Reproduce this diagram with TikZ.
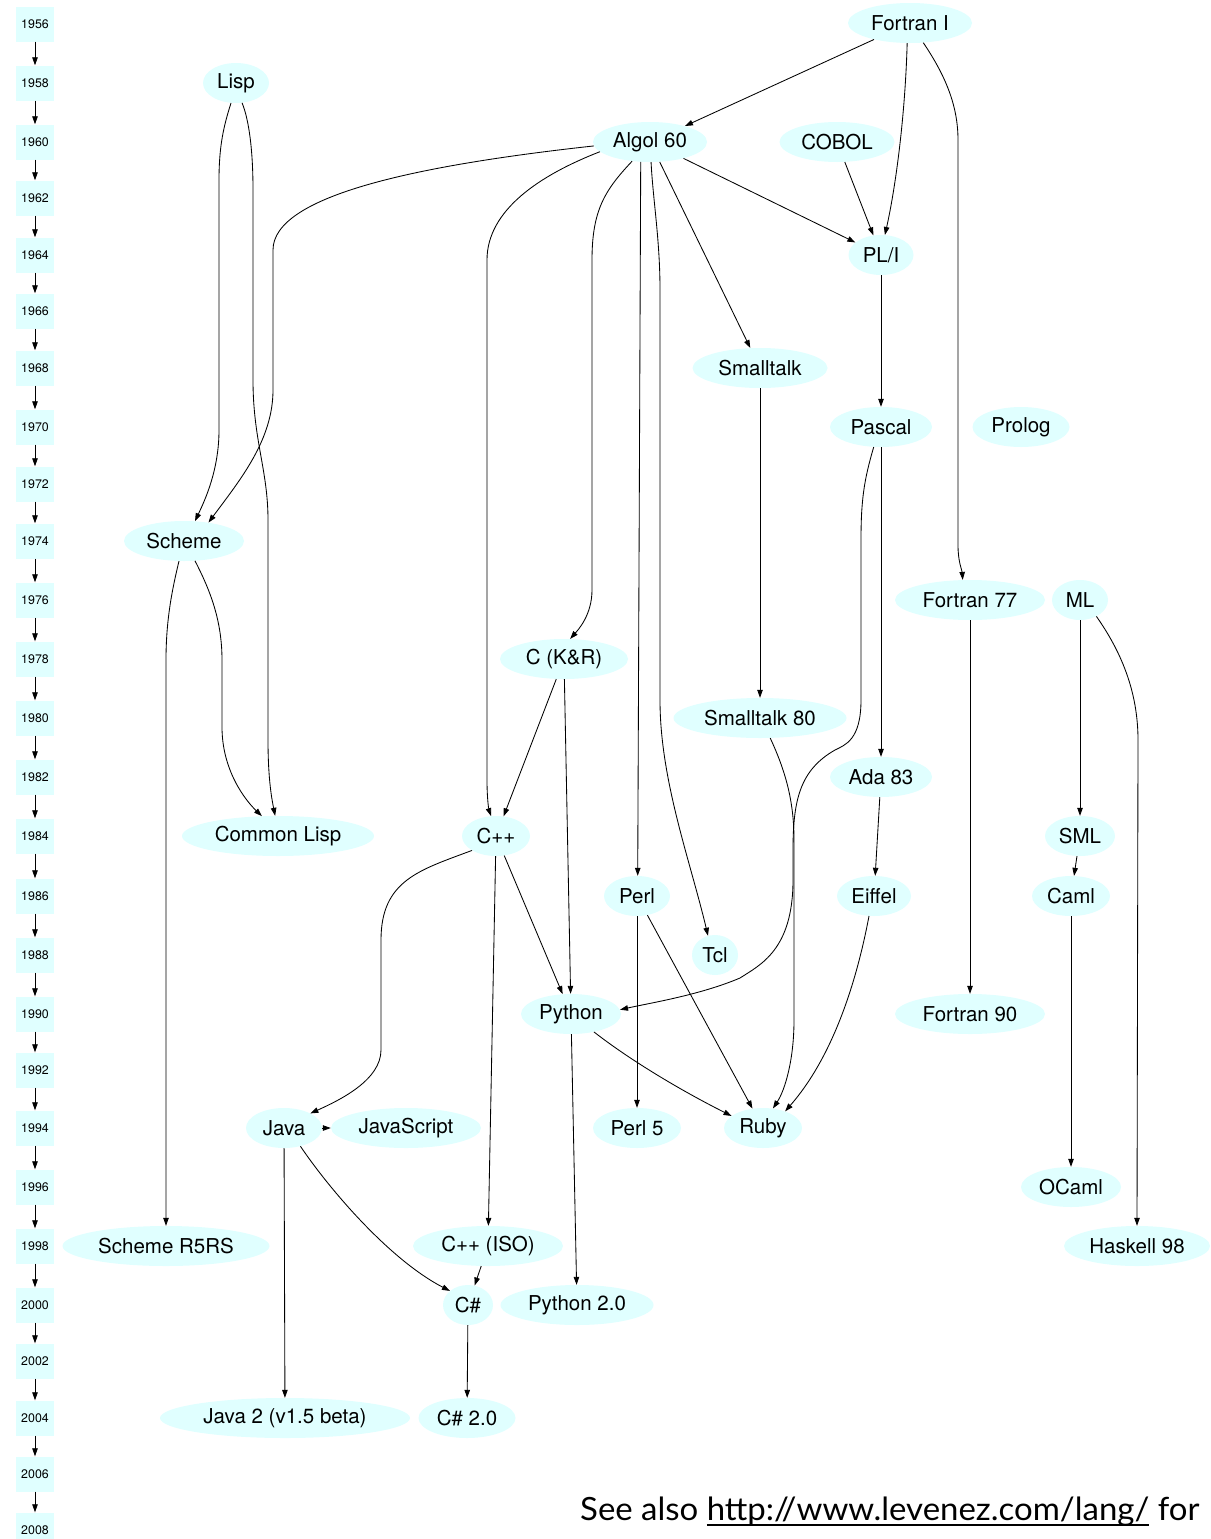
\documentclass[tikz,border=0pt]{standalone}
\usepackage{fontspec}
\setmainfont{TeX Gyre Heros}
\newfontfamily\gillfont{Lato}
\usetikzlibrary{shapes.geometric,arrows.meta}
\definecolor{lcyan}{RGB}{224,255,255}
\newcommand\myul[1]{\setbox0=\hbox{#1}\rlap{\rule[-6pt]{\wd0}{1.7pt}}\box0\relax}
\begin{document}
\begin{tikzpicture}[x=1pt,y=-1pt,
  lang/.style={ellipse, fill=lcyan, inner sep=0pt, minimum height=40pt, font=\fontsize{20.5}{24}\selectfont},
  yr/.style={rectangle, fill=lcyan, inner sep=0pt, minimum width=38pt, minimum height=35pt, font=\fontsize{12.4}{14}\selectfont},
  edge/.style={-{Triangle[length=8pt,width=5.5pt]}, line width=0.85pt},
]
\fill[white] (0,0) rectangle (1210,1539);
\useasboundingbox (0,0) rectangle (1210,1539);

% year column
\foreach \yv/\yy in {1956/24,1958/83,1960/142,1962/198,1964/255,1966/311,1968/368,1970/427,1972/484,1974/541,1976/600,1978/659,1980/718,1982/777,1984/836,1986/896,1988/955,1990/1014,1992/1070,1994/1128,1996/1187,1998/1246,2000/1305,2002/1361,2004/1418,2006/1474,2008/1530}
  \node[yr] (y\yv) at (35,\yy) {\yv};
\foreach \ya/\yb in {1956/1958,1958/1960,1960/1962,1962/1964,1964/1966,1966/1968,1968/1970,1970/1972,1972/1974,1974/1976,1976/1978,1978/1980,1980/1982,1982/1984,1984/1986,1986/1988,1988/1990,1990/1992,1992/1994,1994/1996,1996/1998,1998/2000,2000/2002,2002/2004,2004/2006,2006/2008}
  \draw[edge] (y\ya) -- (y\yb);

% languages
\node[lang, minimum width=124pt] (fortran) at (910,23) {Fortran I};
\node[lang, minimum width=66pt] (lisp) at (236,83) {Lisp};
\node[lang, minimum width=114pt] (algol) at (650,142) {Algol 60};
\node[lang, minimum width=115pt] (cobol) at (837,142) {COBOL};
\node[lang, minimum width=65pt] (pli) at (881,255) {PL/I};
\node[lang, minimum width=135pt] (smalltalk) at (760,368) {Smalltalk};
\node[lang, minimum width=102pt] (pascal) at (881,427) {Pascal};
\node[lang, minimum width=97pt] (prolog) at (1021,427) {Prolog};
\node[lang, minimum width=120pt] (scheme) at (184,541) {Scheme};
\node[lang, minimum width=150pt] (f77) at (970,600) {Fortran 77};
\node[lang, minimum width=56pt] (ml) at (1080,600) {ML};
\node[lang, minimum width=128pt] (ckr) at (564,659) {C (K\&R)};
\node[lang, minimum width=173pt] (st80) at (760,718) {Smalltalk 80};
\node[lang, minimum width=102pt] (ada) at (881,777) {Ada 83};
\node[lang, minimum width=192pt] (clisp) at (278,836) {Common Lisp};
\node[lang, minimum width=68pt] (cpp) at (496,836) {C++};
\node[lang, minimum width=70pt] (sml) at (1080,836) {SML};
\node[lang, minimum width=66pt] (perl) at (637,896) {Perl};
\node[lang, minimum width=74pt] (eiffel) at (874,896) {Eiffel};
\node[lang, minimum width=78pt] (caml) at (1071,896) {Caml};
\node[lang, minimum width=46pt] (tcl) at (715,955) {Tcl};
\node[lang, minimum width=100pt] (python) at (571,1014) {Python};
\node[lang, minimum width=150pt] (f90) at (970,1014) {Fortran 90};
\node[lang, minimum width=76pt] (java) at (284,1128) {Java};
\node[lang, minimum width=150pt] (js) at (406,1128) {JavaScript};
\node[lang, minimum width=88pt] (perlv) at (637,1128) {Perl 5};
\node[lang, minimum width=78pt] (ruby) at (763,1128) {Ruby};
\node[lang, minimum width=100pt] (ocaml) at (1071,1187) {OCaml};
\node[lang, minimum width=207pt] (rfive) at (166,1246) {Scheme R5RS};
\node[lang, minimum width=150pt] (cppiso) at (488,1246) {C++ (ISO)};
\node[lang, minimum width=146pt] (haskell) at (1137,1246) {Haskell 98};
\node[lang, minimum width=50pt] (cs) at (468,1305) {C\#};
\node[lang, minimum width=153pt] (pytwo) at (577,1305) {Python 2.0};
\node[lang, minimum width=250pt] (javatwo) at (285,1418) {Java 2 (v1.5 beta)};
\node[lang, minimum width=97pt] (cstwo) at (467,1418) {C\# 2.0};

% straight connectors
\draw[edge] (fortran) -- (algol);
\draw[edge] (algol) -- (smalltalk);
\draw[edge] (algol) -- (pli);
\draw[edge] (cobol) -- (pli);
\draw[edge] (pli) -- (pascal);
\draw[edge] (smalltalk) -- (st80);
\draw[edge] (pascal) -- (ada);
\draw[edge] (f77) -- (f90);
\draw[edge] (ml) -- (sml);
\draw[edge] (ckr) -- (cpp);
\draw[edge] (ckr) -- (python);
\draw[edge] (ada) -- (eiffel);
\draw[edge] (cpp) -- (cppiso);
\draw[edge] (cpp) -- (python);
\draw[edge] (sml) -- (caml);
\draw[edge] (perl) -- (perlv);
\draw[edge] (perl) -- (ruby);
\draw[edge] (caml) -- (ocaml);
\draw[edge] (python) -- (pytwo);
\draw[edge] (java) -- (js);
\draw[edge] (java) -- (javatwo);
\draw[edge] (cppiso) -- (cs);
\draw[edge] (cs) -- (cstwo);
\draw[edge] (algol.-115) -- (perl.88);

% curved connectors
\draw[edge] (fortran.-98) .. controls (905,120) and (895,190) .. (pli.79);
\draw[edge] (fortran.-56) .. controls (945,75) and (958,105) .. (958,140) -- (958,545) .. controls (958,562) and (962,570) .. (f77.110);
\draw[edge] (lisp.-104) .. controls (224,125) and (219,145) .. (219,180) -- (219,430) .. controls (219,470) and (205,500) .. (scheme.61);
\draw[edge] (lisp.-73) .. controls (249,120) and (253,150) .. (253,190) -- (253,380) .. controls (253,440) and (268,470) .. (268,520) -- (268,740) .. controls (268,780) and (272,800) .. (clisp.98);
\draw[edge] (algol.-176) .. controls (420,165) and (273,195) .. (273,250) -- (273,390) .. controls (273,440) and (240,480) .. (scheme.37);
\draw[edge] (algol.-169) .. controls (540,175) and (487,210) .. (487,260) -- (487,780) .. controls (487,800) and (489,810) .. (cpp.104);
\draw[edge] (algol.-133) .. controls (605,190) and (592,210) .. (592,260) -- (592,590) .. controls (592,615) and (578,630) .. (ckr.73);
\draw[edge] (algol.-87) .. controls (653,200) and (660,240) .. (660,290) -- (660,700) .. controls (660,780) and (690,860) .. (tcl.110);
\draw[edge] (pascal.-110) .. controls (864,480) and (861,500) .. (861,540) -- (861,700) .. controls (861,740) and (845,745) .. (835,750) .. controls (800,770) and (793,800) .. (793,850) -- (793,880) .. controls (793,950) and (760,965) .. (740,978) .. controls (700,995) and (650,1003) .. (python.5);
\draw[edge] (ml.-45) .. controls (1120,650) and (1138,690) .. (1138,740) -- (haskell.north);
\draw[edge] (scheme.-104) .. controls (172,590) and (166,620) .. (166,660) -- (rfive.north);
\draw[edge] (scheme.-61) .. controls (210,590) and (222,620) .. (222,660) -- (222,727) .. controls (222,770) and (245,800) .. (clisp.129);
\draw[edge] (st80.-63) .. controls (785,770) and (794,800) .. (794,840) -- (794,1020) .. controls (794,1060) and (785,1090) .. (ruby.63);
\draw[edge] (cpp.-149) .. controls (420,870) and (381,880) .. (381,940) -- (381,1050) .. controls (381,1080) and (340,1100) .. (java.29);
\draw[edge] (eiffel.-104) .. controls (855,990) and (830,1060) .. (ruby.37);
\draw[edge] (python.-38) .. controls (630,1060) and (680,1090) .. (ruby.159);
\draw[edge] (java.-48) .. controls (330,1190) and (390,1260) .. (cs.142);

% note
\node[anchor=base west, inner sep=0pt, font=\gillfont\fontsize{32}{36}\selectfont] (note) at (580,1520) {\scalebox{1.03}[1]{See also \myul{http://www.levenez.com/lang/} for}};
\end{tikzpicture}
\end{document}
